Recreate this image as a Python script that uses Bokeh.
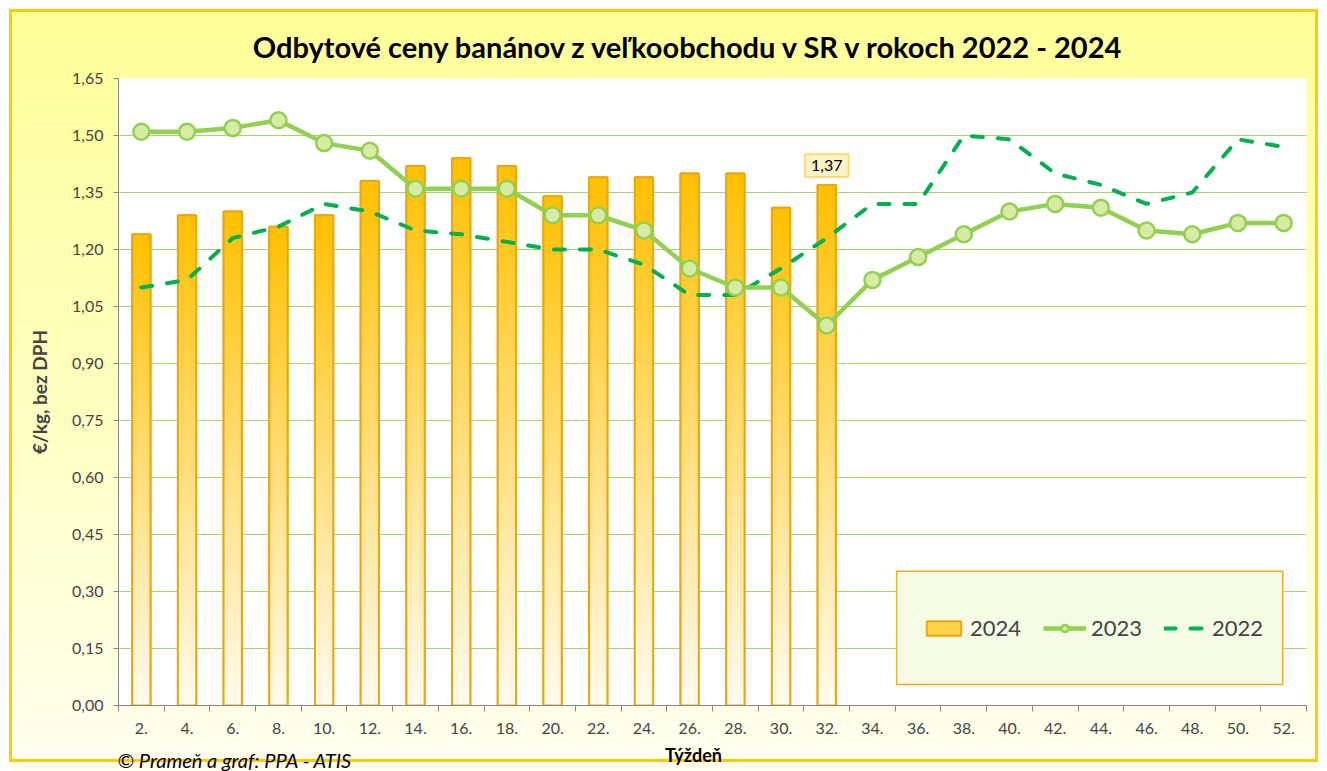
import numpy as np
from bokeh.plotting import figure
from bokeh.models import (FixedTicker, CustomJSTickFormatter, Legend, LegendItem,
                          BoxAnnotation, Label, Range1d)
from bokeh.embed import file_html
from bokeh.resources import INLINE

# ---------------- data ----------------
weeks = ["2.", "4.", "6.", "8.", "10.", "12.", "14.", "16.", "18.", "20.", "22.", "24.", "26.",
         "28.", "30.", "32.", "34.", "36.", "38.", "40.", "42.", "44.", "46.", "48.", "50.", "52."]
prices_2024 = [1.24, 1.29, 1.30, 1.26, 1.29, 1.38, 1.42, 1.44, 1.42, 1.34, 1.39, 1.39, 1.40,
               1.40, 1.31, 1.37]
prices_2023 = [1.51, 1.51, 1.52, 1.54, 1.48, 1.46, 1.36, 1.36, 1.36, 1.29, 1.29, 1.25, 1.15,
               1.10, 1.10, 1.00, 1.12, 1.18, 1.24, 1.30, 1.32, 1.31, 1.25, 1.24, 1.27, 1.27]
prices_2022 = [1.10, 1.12, 1.23, 1.26, 1.32, 1.30, 1.25, 1.24, 1.22, 1.20, 1.20, 1.16, 1.08,
               1.08, 1.15, 1.23, 1.32, 1.32, 1.50, 1.49, 1.40, 1.37, 1.32, 1.35, 1.49, 1.47]
y_ticks = [0.00, 0.15, 0.30, 0.45, 0.60, 0.75, 0.90, 1.05, 1.20, 1.35, 1.50, 1.65]
series_names = ["2024", "2023", "2022"]
title_text = "Odbytové ceny banánov z veľkoobchodu v SR v rokoch 2022 - 2024"
y_title = "€/kg, bez DPH"
x_title = "Týždeň"
source_note = "© Prameň a graf: PPA - ATIS"

FONT = "Lato"

# category positions (centre of each category slot)
x_all = [i + 0.5 for i in range(len(weeks))]
x_2024 = x_all[:len(prices_2024)]

p = figure(width=1327, height=771, output_backend="svg", toolbar_location=None,
           x_range=Range1d(0, len(weeks)), y_range=Range1d(y_ticks[0], y_ticks[-1]),
           min_border_left=118, min_border_right=21, min_border_top=78, min_border_bottom=66)
p.title = None

# background: yellow gradient behind transparent canvas, orange frame
p.border_fill_alpha = 0
p.background_fill_color = "white"
p.outline_line_color = None
p.styles = {
    "background-image": "linear-gradient(to bottom, #FFFF99 0%, #FFFFC4 55%, #FFFFF0 100%)",
    "background-repeat": "no-repeat",
    "background-position": "11px 11px",
    "background-size": "calc(100% - 20px) calc(100% - 11px)",
    "outline": "3px solid #FFCC00",
    "outline-offset": "-12px",
}

# grid
p.xgrid.grid_line_color = None
p.ygrid.grid_line_color = "#A4D46C"
p.ygrid.grid_line_width = 1

# axes
p.yaxis.ticker = FixedTicker(ticks=y_ticks)
p.yaxis.formatter = CustomJSTickFormatter(code="return tick.toFixed(2).replace('.', ',')")
p.yaxis.axis_label = y_title
p.yaxis.axis_label_text_font = FONT
p.yaxis.axis_label_text_font_style = "bold"
p.yaxis.axis_label_text_font_size = "19px"
p.yaxis.axis_label_standoff = 18
p.yaxis.major_label_text_font = FONT
p.yaxis.major_label_text_font_size = "16px"
p.yaxis.major_label_standoff = 10
p.yaxis.major_tick_out = 5
p.yaxis.major_tick_in = 0
p.yaxis.minor_tick_line_color = None
p.yaxis.axis_line_color = "#868686"
p.yaxis.major_tick_line_color = "#868686"

p.xaxis.ticker = FixedTicker(ticks=x_all, minor_ticks=list(range(len(weeks) + 1)))
p.xaxis.formatter = CustomJSTickFormatter(args=dict(labels=weeks),
                                          code="return labels[Math.floor(tick)]")
p.xaxis.major_label_text_font = FONT
p.xaxis.major_label_text_font_size = "16px"
p.xaxis.major_label_standoff = 11
p.xaxis.major_tick_out = 0
p.xaxis.major_tick_in = 0
p.xaxis.minor_tick_out = 6
p.xaxis.minor_tick_in = 0
p.xaxis.minor_tick_line_color = "#868686"
p.xaxis.axis_line_color = "#868686"

# ---- 2024 bars: solid base (used for legend), vertical gradient on top, outline ----
bar_base = p.vbar(x=x_2024, top=prices_2024, width=0.40, fill_color="#FFD24A",
                  line_color="#EBA80E", line_width=2)
gold = np.array([255, 192, 0])
pale = np.array([255, 251, 238])
n_steps = 48
gx, gb, gt, gc = [], [], [], []
for xi, v in zip(x_2024, prices_2024):
    for k in range(n_steps):
        t = (k + 0.5) / n_steps
        c = (pale * (1 - t) + gold * t).round().astype(int)
        gx.append(xi)
        gb.append(v * k / n_steps)
        gt.append(min(v, v * (k + 1.3) / n_steps))
        gc.append("#%02X%02X%02X" % tuple(c))
p.vbar(x=gx, bottom=gb, top=gt, width=0.40, fill_color=gc, line_color=None)
p.vbar(x=x_2024, top=prices_2024, width=0.40, fill_alpha=0,
       line_color="#EBA80E", line_width=2)

# ---- 2022 dashed ----
r22 = p.line(x_all, prices_2022, line_color="#00B050", line_width=4,
             line_dash="11 15", line_cap="round")

# ---- 2023 line with markers ----
r23 = p.line(x_all, prices_2023, line_color="#92D050", line_width=4.5)
r23m = p.scatter(x_all, prices_2023, size=16, marker="circle",
                 fill_color="#D7EBA5", line_color="#92D050", line_width=2.5)

# data label for the last 2024 value
last_val = prices_2024[-1]
p.add_layout(Label(x=x_2024[-1], y=last_val, y_offset=8,
                   text=("%.2f" % last_val).replace(".", ","),
                   text_align="center", text_baseline="bottom",
                   text_font=FONT, text_font_size="16px", text_color="black",
                   background_fill_color="#FFF2C4", border_line_color="#FFD45C",
                   border_line_width=1.5, padding=6))

# legend box
p.add_layout(BoxAnnotation(left=17.03, right=25.48, bottom=0.055, top=0.353,
                           fill_color="#F4FCE6", fill_alpha=1,
                           line_color="#EEB022", line_alpha=1, line_width=1.5,
                           level="annotation"))
legend = Legend(items=[LegendItem(label=series_names[0], renderers=[bar_base]),
                       LegendItem(label=series_names[1], renderers=[r23, r23m]),
                       LegendItem(label=series_names[2], renderers=[r22])],
                orientation="horizontal", location=(804, 64),
                background_fill_alpha=0, border_line_alpha=0,
                label_text_font=FONT, label_text_font_size="22px",
                glyph_width=43, glyph_height=18, spacing=22, label_standoff=5,
                padding=0, margin=0)
p.add_layout(legend)

# chart title, source note and x-axis title: canvas-positioned labels in border panels
p.add_layout(Label(x=689, y=46, x_units="canvas", y_units="canvas", text=title_text,
                   text_font=FONT, text_font_style="bold", text_font_size="29px",
                   text_baseline="middle", text_align="center", text_color="black"),
             "above")
p.add_layout(Label(x=117, y=759, x_units="canvas", y_units="canvas", text=source_note,
                   text_font=FONT, text_font_style="italic", text_font_size="20px",
                   text_baseline="middle", text_align="left", text_color="black"),
             "above")
p.add_layout(Label(x=693, y=754, x_units="canvas", y_units="canvas", text=x_title,
                   text_font=FONT, text_font_style="bold", text_font_size="18px",
                   text_baseline="middle", text_align="center", text_color="black"),
             "below")

open("out.html", "w").write(file_html(p, INLINE))
